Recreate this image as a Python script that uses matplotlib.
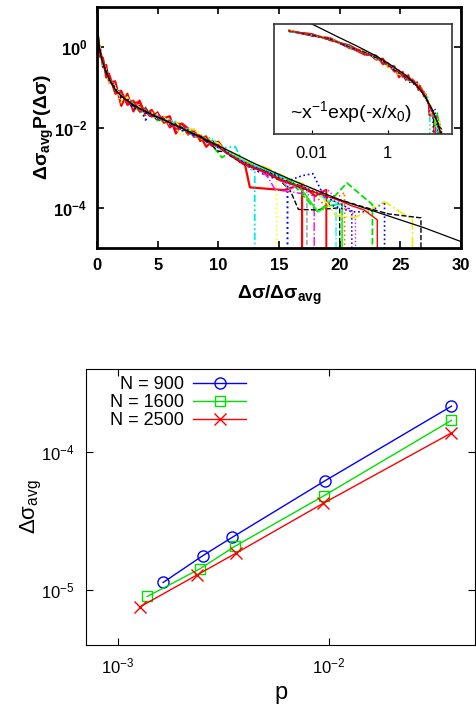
import matplotlib.pyplot as plt
import numpy as np
import matplotlib as mpl

mpl.rcParams['font.family'] = 'Liberation Sans'
mpl.rcParams['mathtext.fontset'] = 'custom'
mpl.rcParams['mathtext.rm'] = 'Liberation Sans'
mpl.rcParams['mathtext.it'] = 'Liberation Sans'
mpl.rcParams['mathtext.bf'] = 'Liberation Sans:bold'
mpl.rcParams['mathtext.default'] = 'regular'

##################
# top panel: scaled distributions (log10 of dsigma_avg * P)

body_x = [0.0025, 0.01, 0.03, 0.1, 0.25, 0.5, 0.75, 1, 1.5, 2, 2.5, 3, 3.5, 4, 4.5,
          5, 5.5, 6, 6.5, 7, 7.5, 8, 8.5, 9, 9.5, 10]
body_log = [1.05, 0.85, 0.6, 0.2, -0.12, -0.38, -0.6, -0.78, -1.05, -1.22, -1.34, -1.44,
            -1.53, -1.61, -1.68, -1.75, -1.81, -1.88, -1.95, -2.02, -2.1, -2.17, -2.24,
            -2.32, -2.4, -2.47]

# per-run wiggle around the body (units of 0.02 decade)
dev = [
    [0, -2, 3, -4, 5, -6, 8, -5, 10, -12, 9, -8, 10, -4, 6, -3, 2, 8, -10, 6, 4, -3, 2, -8, 3, 5],
    [-2, 1, -3, 2, -2, 3, -4, 2, -3, 4, -2, 3, -5, 2, 3, -4, 1, -3, 4, -2, 3, 1, -4, 2, -3, -8],
    [1, -1, 2, -3, 2, -4, 3, -2, 4, -3, 2, -5, 3, -10, 2, -4, 3, -2, -5, 2, -3, 1, -2, 3, -4, 2],
    [2, 0, -2, 3, -3, 2, -4, 4, -2, 3, -4, 2, -2, 4, -3, 2, -4, 3, -2, 4, 2, -3, 3, -2, 4, -2],
    [-1, 2, -2, 4, -3, 5, -2, 3, -4, 5, -3, 4, -2, 6, -3, 4, 2, -2, 5, -3, 4, 5, -2, 6, 4, 3],
    [3, -2, 4, -3, 5, -4, 3, -6, 4, -8, 3, -2, 5, -3, 4, 2, -5, 3, -4, -9, 3, 4, 6, -2, 5, 2],
    [-1, 1, -1, 2, -2, 1, -2, 2, -1, 2, -2, 1, -1, 2, -2, 1, -2, 2, -1, 2, -2, 1, -2, 2, -3, -6],
    [1, -2, 2, -1, 3, -3, 2, -2, 3, -1, 2, -3, 4, -2, 3, -2, 1, -3, 2, -1, 3, -2, 4, -3, 2, -1],
    [0, 1, -1, 1, -2, 2, -1, 1, -2, 2, -1, 2, -2, 1, -1, 2, -2, 1, -1, 2, -1, -2, 2, -1, 3, -2],
    [2, -3, 4, -2, -6, 5, -8, 6, -4, 7, -5, 3, 8, -3, 5, -2, 4, -6, 3, 5, -4, 6, -5, 4, -2, 6],
    [-1, 2, -1, 3, -2, 2, -3, 1, -2, 3, -1, 2, -3, 2, -2, 1, -3, 2, -1, 2, -3, 2, -2, 3, 1, 2],
    [0, -1, 1, -2, 1, -2, 2, -1, 2, -3, 1, -2, 3, -2, 1, -2, 2, -1, 2, -3, 1, -2, 2, -1, 3, 1],
    [1, 1, -2, 2, -1, 3, -2, 1, -3, 2, -1, 3, -2, 1, -2, 3, -1, 2, -3, 1, -2, 3, -1, 2, -2, 2],
    [-2, 1, -1, 2, -3, 4, -2, 3, -1, 4, -2, 5, -3, 4, -1, 3, -2, 5, -2, 4, -3, 5, -1, 4, 6, 3],
    [2, -1, 3, -2, 4, -3, 2, -5, 3, -4, 5, -3, 2, -4, 3, -2, 4, -3, 5, -2, 4, 6, -3, 5, 2, 4],
    [0, 0, 1, -1, 1, -1, 0, 1, -1, 0, 1, -1, 0, 1, -1, 0, 1, -1, 0, 1, -1, 0, 1, -1, 0, 0],
    [1, -2, 1, -1, 2, -2, 1, -3, 2, -1, 3, -2, 1, -2, 3, -1, 2, -2, 1, -3, 2, -1, 2, -2, 1, -2],
    [-1, 3, -3, 5, -4, 6, -5, 4, -6, 5, -3, 6, -4, 5, -3, 7, -4, 3, -5, 6, -3, 4, -2, 5, -3, 2],
]

# tails beyond x = 10, each run ends where its histogram hits zero
tail_x = [
    [10.5, 11, 11.5, 12.2, 12.6, 15.4, 16.9],
    [10.3, 11, 12, 13, 14, 15, 16, 17, 18.2, 19, 20.6, 22.7],
    [10.5, 11, 12, 13, 14, 15, 15.7],
    [10.5, 11, 12, 13, 14, 14.7, 16, 17.9],
    [10.5, 11.4, 12, 12.5, 13],
    [10.5, 11, 12, 13, 14, 14.8],
    [10.5, 11, 12, 13, 14, 15, 15.9, 16.6, 18, 20],
    [10.5, 11, 12, 13, 14, 15, 16, 17, 18, 18.8, 20.4],
    [10.5, 11, 12, 13, 14, 15, 15.9, 16.5, 17.3],
    [10.5, 11, 12, 13, 14, 15, 16, 17, 18, 18.9],
    [10.5, 11, 12, 13, 14, 15, 16, 17, 18.2, 19, 20.2],
    [10.5, 11, 12, 13, 14, 15, 16, 16.9, 17.8, 19, 21, 22.5, 23.7],
    [10.5, 11, 12, 13, 14, 15, 16, 17, 18, 19, 20, 21.3],
    [10.5, 11, 12, 13, 14, 15, 16, 17, 18, 19, 19.7],
    [10.5, 11, 12, 13, 14, 15, 16, 17, 18, 19, 19.7, 21.3, 23.7, 26.0],
    [10.5, 11, 12, 13, 14, 15, 16, 17, 18, 20, 22, 24, 26.7],
    [10.5, 11, 12, 13, 14, 15, 16, 17, 18, 19, 20, 21],
    [10.5, 11, 12, 13, 14, 15, 16, 17, 18, 19, 20, 21, 22, 23.1],
]
tail_log = [
    [-2.55, -2.7, -2.72, -2.93, -3.49, -3.56, -3.42],
    [-2.75, -2.6, -2.83, -3.0, -3.1, -3.25, -3.35, -3.7, -4.1, -3.9, -3.38, -3.92],
    [-2.6, -2.7, -2.9, -3.05, -3.2, -3.3, -3.35],
    [-2.55, -2.7, -2.85, -3.0, -3.2, -3.55, -3.6, -3.7],
    [-2.5, -2.48, -2.85, -3.0, -3.1],
    [-2.55, -2.7, -2.85, -2.95, -3.1, -3.15],
    [-2.6, -2.7, -2.9, -3.0, -3.15, -3.3, -3.55, -4.04, -4.05, -4.0],
    [-2.55, -2.68, -2.85, -3.0, -3.15, -3.25, -3.4, -3.5, -3.7, -3.95, -3.62],
    [-2.6, -2.7, -2.88, -3.0, -3.1, -3.25, -3.55, -3.45, -3.5],
    [-2.58, -2.66, -2.9, -3.02, -3.12, -3.3, -3.4, -3.48, -3.7, -3.55],
    [-2.55, -2.66, -2.8, -2.95, -3.08, -3.2, -3.32, -3.6, -4.1, -3.95, -3.9],
    [-2.6, -2.7, -2.85, -3.0, -3.1, -3.2, -3.3, -3.2, -3.15, -3.9, -4.1, -4.1, -3.85],
    [-2.55, -2.68, -2.85, -3.0, -3.15, -3.3, -3.45, -3.55, -3.6, -3.55, -3.85, -4.2],
    [-2.55, -2.65, -2.8, -2.95, -3.05, -3.2, -3.3, -3.45, -3.65, -3.8, -3.85],
    [-2.55, -2.6, -2.78, -2.9, -3.0, -3.15, -3.3, -3.4, -3.55, -3.9, -4.2, -4.24, -3.85, -4.3],
    [-2.58, -2.7, -2.88, -3.0, -3.12, -3.28, -3.4, -3.52, -3.62, -3.8, -3.98, -4.15, -4.25],
    [-2.55, -2.68, -2.85, -2.98, -3.1, -3.25, -3.38, -3.48, -3.6, -3.75, -3.9, -4.05],
    [-2.6, -2.68, -2.88, -3.0, -3.12, -3.28, -3.4, -3.5, -3.62, -3.72, -3.82, -3.95, -4.05, -4.3],
]

run_colors = ['#ff0000', '#00e000', '#0000ff', '#ff00ff', '#00e8e8', '#ffff00',
              '#000000', '#ff6a00', '#999999', '#ff0000', '#00ff00', '#0000ff',
              '#ff00ff', '#00ffff', '#f0f000', '#000000', '#0000ff', '#ff0000']
run_styles = ['-', '--', ':', '-.', (0, (4, 1.5, 1, 1.5, 1, 1.5)), ':',
              '--', ':', '--', '-', '-', ':',
              ':', '-.', '-.', '--', ':', '-']
run_widths = [1.6, 1.3, 1.4, 1.0, 1.3, 1.2, 1.0, 1.2, 1.0, 1.4, 1.2, 1.2,
              1.0, 1.0, 1.2, 1.0, 1.1, 1.0]

# fitted ~ x^-1 exp(-x/x0), as drawn
fit_x = [0.03, 0.1, 0.2, 0.4, 0.7, 1, 1.5, 2, 3, 4, 5, 7, 10, 13, 16, 20, 24, 27, 30]
fit_log = [1.0, 0.3, -0.05, -0.3, -0.6, -0.8, -1.05, -1.22, -1.44, -1.6, -1.74, -2.02,
           -2.45, -2.9, -3.3, -3.8, -4.2, -4.5, -4.84]
inset_fit_x = [0.005, 0.01, 0.05, 0.15, 0.5, 1, 3, 6, 10, 15, 20, 30]
inset_fit_log = [1.73, 1.43, 0.72, 0.25, -0.3, -0.67, -1.34, -1.93, -2.53, -3.19, -3.8, -4.95]

##################
# bottom panel

p_900 = [1.64e-3, 2.53e-3, 3.48e-3, 9.57e-3, 3.79e-2]
s_900 = [1.13e-5, 1.77e-5, 2.40e-5, 6.17e-5, 2.14e-4]
p_1600 = [1.38e-3, 2.45e-3, 3.57e-3, 9.46e-3, 3.79e-2]
s_1600 = [8.95e-6, 1.42e-5, 2.06e-5, 4.81e-5, 1.69e-4]
p_2500 = [1.27e-3, 2.37e-3, 3.62e-3, 9.40e-3, 3.79e-2]
s_2500 = [7.5e-6, 1.28e-5, 1.84e-5, 4.24e-5, 1.37e-4]

##################

W, H = 476, 704
fig = plt.figure(figsize=(W / 100, H / 100), dpi=100)

ax1 = fig.add_axes([97 / W, 1 - 248 / H, 364 / W, 241 / H])
axi = fig.add_axes([274 / W, 1 - 134 / H, 178 / W, 110 / H])
ax2 = fig.add_axes([86 / W, 1 - 645 / H, 389 / W, 276 / H])

floor = 1e-7
for i in range(len(dev)):
    x = np.concatenate((body_x, tail_x[i], [tail_x[i][-1]]))
    ylog = np.concatenate((np.array(body_log) + np.array(dev[i]) * 0.02, tail_log[i]))
    y = np.concatenate((10.0 ** ylog, [floor]))
    ax1.plot(x, y, color=run_colors[i], ls=run_styles[i], lw=run_widths[i])
    axi.plot(x, y, color=run_colors[i], ls=run_styles[i], lw=max(run_widths[i] - 0.2, 0.8))

ax1.plot(fit_x, 10.0 ** np.array(fit_log), color='black', lw=0.9)
axi.plot(inset_fit_x, 10.0 ** np.array(inset_fit_log), color='black', lw=0.9)

ax1.set_yscale('log')
ax1.set_xlim(0, 30)
ax1.set_ylim(1e-5, 10)
ax1.set_xticks([0, 5, 10, 15, 20, 25, 30])
ax1.set_xticklabels([str(v) for v in [0, 5, 10, 15, 20, 25, 30]], fontweight='bold', fontsize=12)
ax1.set_yticks([1, 1e-2, 1e-4])
ax1.set_yticklabels([r'$\mathbf{10^{0}}$', r'$\mathbf{10^{-2}}$', r'$\mathbf{10^{-4}}$'], fontsize=12)
ax1.yaxis.set_minor_locator(mpl.ticker.NullLocator())
ax1.tick_params(direction='in', length=5, width=1.2, top=True, right=True, pad=7)
for s in ax1.spines.values():
    s.set_linewidth(2)
ax1.set_xlabel(r'$\mathbf{Δσ/Δσ_{avg}}$', fontsize=14, labelpad=8)
ax1.set_ylabel(r'$\mathbf{Δσ_{avg}P(Δσ)}$', fontsize=14, labelpad=-2)

axi.set_xscale('log')
axi.set_yscale('log')
axi.set_xlim(1e-3, 50)
axi.set_ylim(10 ** -4.52, 10 ** 1.43)
axi.set_xticks([0.01, 1])
axi.set_xticklabels(['0.01', '1'], fontsize=12)
axi.xaxis.set_minor_locator(mpl.ticker.NullLocator())
axi.set_yticks([])
axi.yaxis.set_minor_locator(mpl.ticker.NullLocator())
axi.tick_params(axis='x', direction='in', length=3, pad=9)
for s in axi.spines.values():
    s.set_linewidth(1.2)
    s.set_color('#333333')
axi.text(0.09, 0.2, r'~x$^{-1}$exp(-x/x$_0$)', transform=axi.transAxes, fontsize=14,
         va='center', ha='left')

ax2.plot(p_900, s_900, color='#0000ff', lw=1, marker='o', mfc='none', ms=8, mew=1,
         label='N = 900')
ax2.plot(p_1600, s_1600, color='#00e000', lw=1, marker='s', mfc='none', ms=7.5, mew=1,
         label='N = 1600')
ax2.plot(p_2500, s_2500, color='#ff0000', lw=1, marker='x', ms=8, mew=1,
         label='N = 2500')
ax2.set_xscale('log')
ax2.set_yscale('log')
ax2.set_xlim(10 ** -3.15, 10 ** -1.31)
ax2.set_ylim(10 ** -5.4, 10 ** -3.4)
ax2.set_xticks([1e-3, 1e-2])
ax2.set_xticklabels([r'$10^{-3}$', r'$10^{-2}$'], fontsize=12)
ax2.set_yticks([1e-4, 1e-5])
ax2.set_yticklabels([r'$10^{-4}$', r'$10^{-5}$'], fontsize=12)
ax2.xaxis.set_minor_locator(mpl.ticker.NullLocator())
ax2.yaxis.set_minor_locator(mpl.ticker.NullLocator())
ax2.tick_params(direction='in', length=5, top=True, right=True, pad=8)
ax2.set_xlabel('p', fontsize=17, labelpad=4)
ax2.set_ylabel(r'$Δσ_{avg}$', fontsize=16, labelpad=-2)
ax2.legend(loc='upper left', bbox_to_anchor=(0.044, 1.0), markerfirst=False, frameon=False,
           fontsize=13, handlelength=2.9, labelspacing=0.05, handletextpad=0.5,
           borderaxespad=0)

plt.savefig('out.png', dpi=100)
